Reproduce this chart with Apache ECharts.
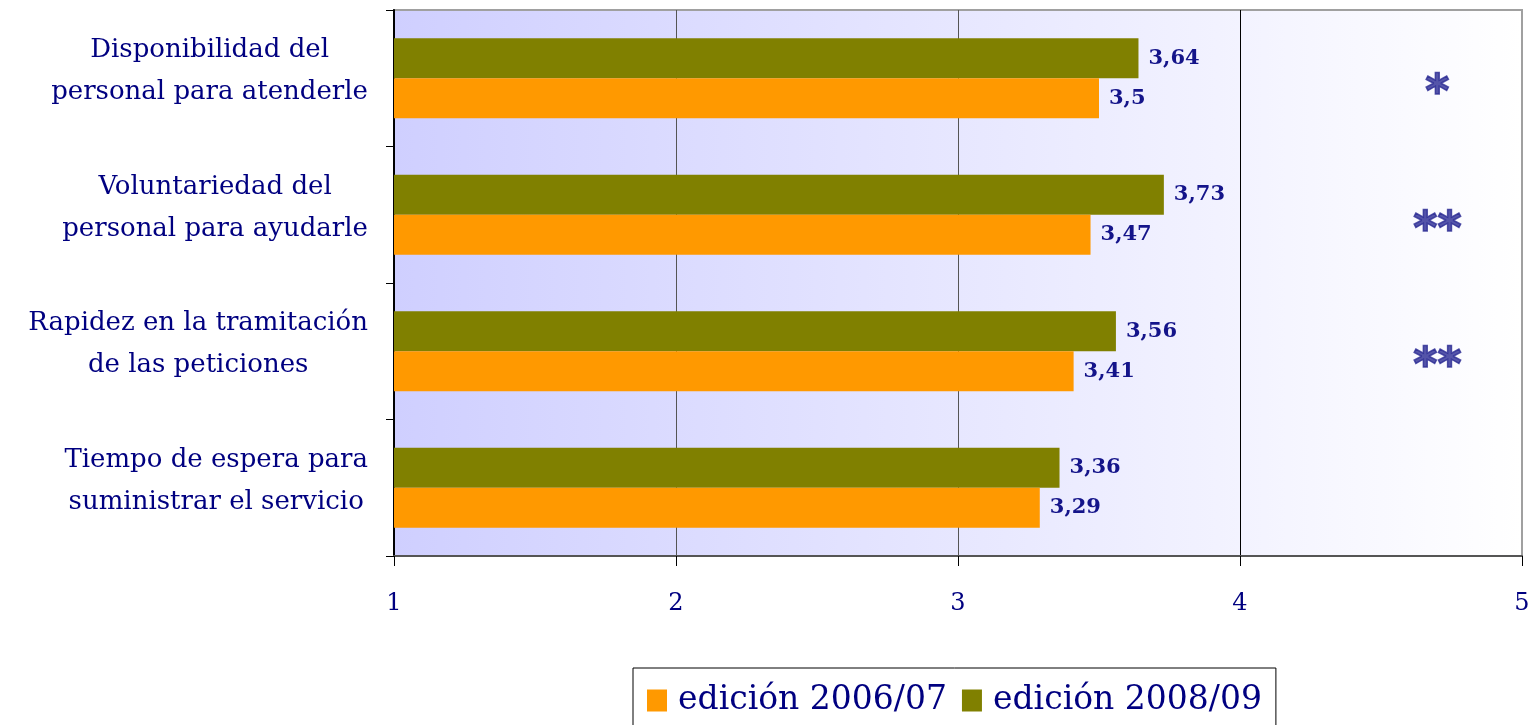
<!DOCTYPE html>
<html>
<head>
<meta charset="utf-8">
<title>Valoración del personal</title>
<script src="https://cdn.jsdelivr.net/npm/echarts/dist/echarts.min.js"></script>
<style>
  html, body { margin: 0; padding: 0; background: #fff; }
  #box { width: 1539px; height: 725px; }
</style>
</head>
<body>
<div id="box"></div>
<script>
// categorías (de abajo arriba, como las dibuja el eje)
var categorias = [
  "Tiempo de espera para\nsuministrar el servicio",
  "Rapidez en la tramitación\nde las peticiones",
  "Voluntariedad del\npersonal para ayudarle",
  "Disponibilidad del\npersonal para atenderle"
];
var edicion0607 = [3.29, 3.41, 3.47, 3.5];
var edicion0809 = [3.36, 3.56, 3.73, 3.64];
// diferencias significativas
var asteriscos = ["", "**", "**", "*"];
var colAsteriscos = 4.7;
var ticksX = [1, 2, 3, 4, 5];

var navy = "#000080";

function drawCharts() {
  var myCharts = echarts.init(document.getElementById("box"));

  // 3.64 -> "3,64"
  var etiqueta = function (p) {
    return String(p.value).replace(".", ",");
  };
  var labelBarra = {
    show: true,
    position: "right",
    distance: 10,
    formatter: etiqueta,
    fontFamily: "DejaVu Serif",
    fontWeight: "bold",
    fontSize: 21,
    color: "#14148a"
  };

  var option = {
    animation: false,
    legend: {
      data: ["edición 2006/07", "edición 2008/09"],
      left: 633,
      top: 668,
      padding: [16, 14, 20, 14],
      borderColor: "#000",
      borderWidth: 1,
      itemGap: 15,
      itemWidth: 20,
      itemHeight: 22,
      icon: "rect",
      textStyle: {
        fontFamily: "DejaVu Serif",
        fontSize: 33,
        color: navy,
        padding: [0, 0, 0, 6]
      }
    },
    grid: {
      left: 394,
      right: 17,
      top: 10,
      bottom: 169,
      containLabel: false,
      outerBoundsMode: "none",
      show: true,
      borderColor: "#a0a0a0",
      borderWidth: 2,
      backgroundColor: new echarts.graphic.LinearGradient(0, 0, 1, 0, [
        { offset: 0, color: "#cfcfff" },
        { offset: 1, color: "#ffffff" }
      ])
    },
    xAxis: {
      type: "value",
      min: ticksX[0],
      max: ticksX[ticksX.length - 1],
      interval: 1,
      axisLine: { show: true, lineStyle: { color: "#555", width: 2 } },
      axisTick: { show: true, inside: false, length: 10, lineStyle: { color: "#000" } },
      axisLabel: {
        margin: 36,
        fontFamily: "DejaVu Serif",
        fontSize: 24,
        color: navy
      },
      splitLine: {
        show: true,
        lineStyle: { color: ["#555", "#555", "#555", "#000", "#a0a0a0"], width: 1 }
      }
    },
    yAxis: {
      type: "category",
      data: categorias,
      axisLine: { show: true, lineStyle: { color: "#000", width: 2 } },
      axisTick: { show: true, length: 8, lineStyle: { color: "#000" } },
      axisLabel: {
        margin: 26,
        padding: [0, 0, 14, 0],
        formatter: function (v) {
          return v.split("\n").map(function (l) { return "{c|" + l + "}"; }).join("\n");
        },
        rich: {
          c: {
            align: "center",
            fontFamily: "DejaVu Serif",
            fontSize: 26,
            lineHeight: 42,
            color: navy
          }
        }
      },
      splitLine: { show: false }
    },
    series: [
      {
        name: "edición 2008/09",
        type: "bar",
        data: edicion0809,
        barWidth: 40,
        barGap: "0%",
        itemStyle: { color: "#808000" },
        label: labelBarra
      },
      {
        name: "edición 2006/07",
        type: "bar",
        data: edicion0607,
        barWidth: 40,
        barGap: "0%",
        itemStyle: { color: "#ff9900" },
        label: labelBarra
      },
      {
        name: "significación",
        type: "scatter",
        symbolSize: 0,
        silent: true,
        data: asteriscos.map(function (a, i) { return [colAsteriscos, i, a]; }),
        label: {
          show: true,
          position: "inside",
          offset: [0, 17],
          formatter: function (p) { return p.value[2]; },
          fontFamily: "DejaVu Sans",
          fontWeight: "bold",
          fontSize: 46,
          color: "#2b2b94",
          textBorderColor: "#2b2b94",
          textBorderWidth: 1.5
        }
      }
    ]
  };

  myCharts.setOption(option);
}

drawCharts();
</script>
</body>
</html>
